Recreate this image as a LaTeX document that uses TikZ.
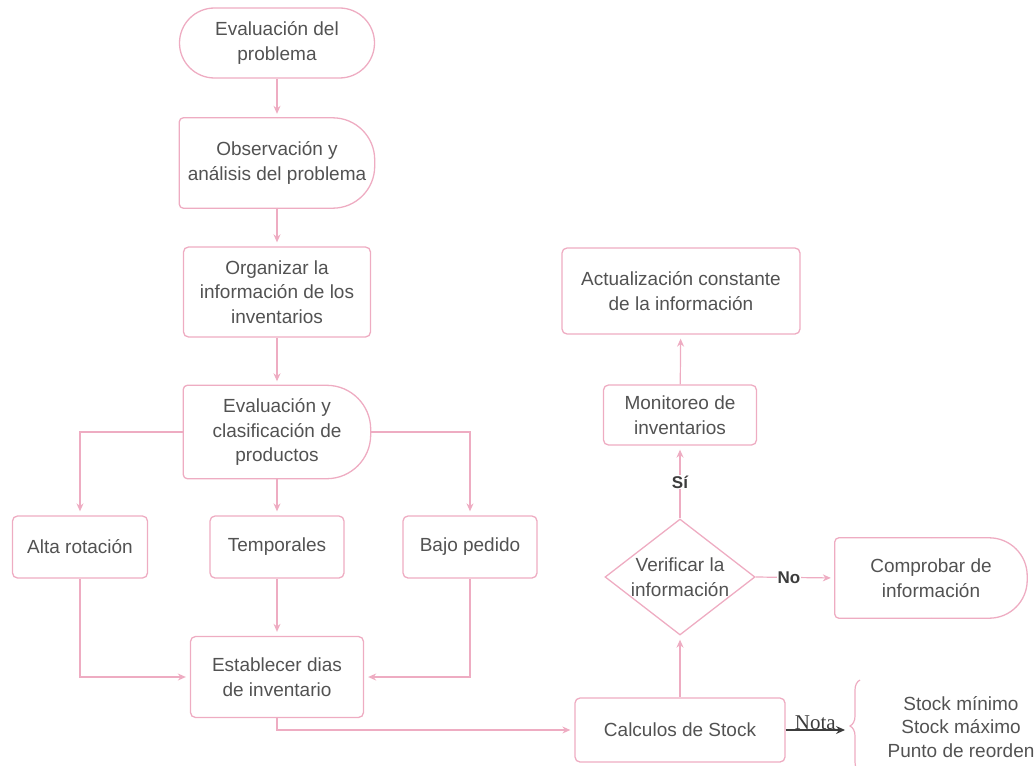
\documentclass[tikz,border=0pt]{standalone}
\usepackage{fontspec}
\setmainfont{Liberation Sans}
\newfontfamily\serifnota{Liberation Serif}
\usetikzlibrary{shapes.geometric,arrows.meta,decorations.pathreplacing}
\definecolor{pinkline}{RGB}{238,172,194}
\definecolor{txtgray}{RGB}{82,82,82}
\definecolor{notagray}{RGB}{60,60,60}
\tikzset{
  txt/.style={text=txtgray, align=center, inner sep=0pt, font=\fontsize{19}{24.5}\selectfont},
  outl/.style={draw=pinkline, line width=1.3pt},
  boxr/.style={txt, outl, rectangle, rounded corners=5pt},
  stad/.style={txt, outl, rectangle, rounded corners=35pt},
  dbox/.style={txt, rectangle},
  arr/.style={draw=pinkline, line width=1.2pt, -{Stealth[length=8pt,width=7pt]}, shorten >=4pt},
  lbl/.style={text=notagray, font=\fontsize{17}{20}\selectfont\bfseries, fill=white, inner sep=1pt},
}
\begin{document}
\begin{tikzpicture}[x=1pt,y=-1pt]
\useasboundingbox (0,0) rectangle (1035,765);
\node[stad, minimum width=195, minimum height=70] (e1) at (277,43) {Evaluación del\\problema};
\node[dbox, minimum width=195, minimum height=90] (e2) at (277,163) {Observación y\\análisis del problema};
\draw[outl, rounded corners=4pt] (e2.north) -- (e2.north west) -- (e2.south west) -- (e2.south);
\draw[outl, rounded corners=42pt] (e2.south) -- (e2.south east) -- (e2.north east) -- (e2.north);
\node[boxr, minimum width=187, minimum height=90] (e3) at (277,292) {Organizar la\\información de los\\inventarios};
\node[dbox, minimum width=187, minimum height=93] (e4) at (277,432) {Evaluación y\\clasificación de\\productos};
\draw[outl, rounded corners=4pt] (e4.north) -- (e4.north west) -- (e4.south west) -- (e4.south);
\draw[outl, rounded corners=44pt] (e4.south) -- (e4.south east) -- (e4.north east) -- (e4.north);
\node[boxr, minimum width=135, minimum height=62] (alta) at (80,547) {Alta rotación};
\node[boxr, minimum width=134, minimum height=62] (temp) at (277,547) {Temporales};
\node[boxr, minimum width=134, minimum height=62] (bajo) at (470,547) {Bajo pedido};
\node[boxr, minimum width=173, minimum height=81] (est) at (277,677) {Establecer dias\\de inventario};
\node[boxr, minimum width=210, minimum height=64] (calc) at (680,730) {Calculos de Stock};
\node[outl, diamond, minimum width=150, minimum height=116, inner sep=0pt] (ver) at (680,577) {};
\node[txt] (vert) at (ver) {Verificar la\\información};
\node[dbox, minimum width=192, minimum height=80] (com) at (931,578) {Comprobar de\\información};
\draw[outl, rounded corners=4pt] (com.north) -- (com.north west) -- (com.south west) -- (com.south);
\draw[outl, rounded corners=38pt] (com.south) -- (com.south east) -- (com.north east) -- (com.north);
\node[boxr, minimum width=153, minimum height=60] (mon) at (680,415) {Monitoreo de\\inventarios};
\node[boxr, minimum width=238, minimum height=86] (act) at (681,291) {Actualización constante\\de la información};
\node[txt, font=\fontsize{19}{23.5}\selectfont] (stk) at (961,727) {Stock mínimo\\Stock máximo\\Punto de reorden};
\coordinate (btip) at (845,730);
% connectors
\draw[arr] (e1) -- (e2);
\draw[arr] (e2) -- (e3);
\draw[arr] (e3) -- (e4);
\draw[arr] (e4.west) -| (alta.north);
\draw[arr] (e4) -- (temp);
\draw[arr] (e4.east) -| (bajo.north);
\draw[arr] (alta.south) |- (est.west);
\draw[arr] (temp) -- (est);
\draw[arr] (bajo.south) |- (est.east);
\draw[arr] (est.south) |- (calc.west);
\draw[arr] (calc) -- (ver);
\draw[arr] (ver.north) -- node[lbl, pos=0.5] {Sí} (mon.south);
\draw[arr] (mon) -- (act);
\draw[arr] (ver.east) -- node[lbl, pos=0.42] {No} (com.west);
\draw[draw=notagray, line width=1.2pt, -{Stealth[length=9pt,width=8pt]}] (calc.east) -- node[above, inner sep=0pt, text=notagray, font=\serifnota\fontsize{21}{22}\selectfont] {Nota} (btip);
\draw[draw=pinkline, line width=1.2pt, decorate, decoration={brace, amplitude=10pt}] (860,772) -- (860,680);
\end{tikzpicture}
\end{document}
